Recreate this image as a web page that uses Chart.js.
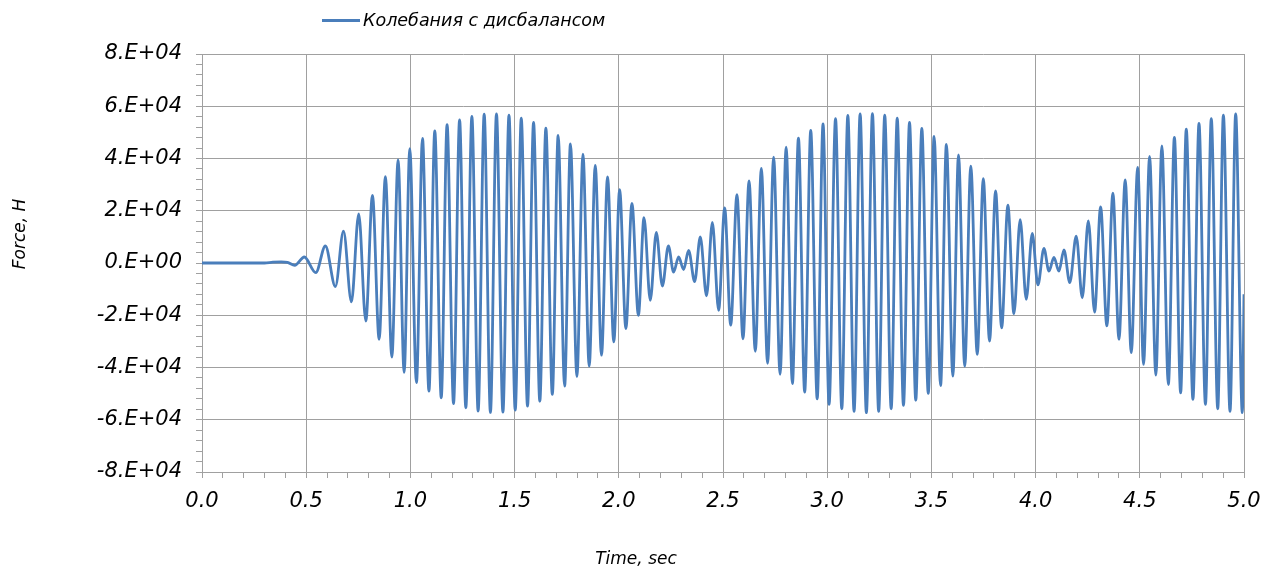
<!DOCTYPE html>
<html>
  <head>
    <meta charset="utf-8">
    <title>Колебания с дисбалансом</title>
    <script src="https://cdn.jsdelivr.net/npm/chart.js"></script>
    <style>
      body { margin: 0; background: #fff; }
      #wrap { position: relative; width: 1265px; height: 569px; }
      #legend {
        position: absolute; left: 322px; top: 10px;
        font: italic 17.5px "DejaVu Sans", sans-serif; color: #000;
        white-space: nowrap;
      }
      #legend span.swatch {
        display: inline-block; width: 38px; height: 3px; background: #4a7ebb;
        vertical-align: middle; margin-right: 3px; position: relative; top: -1px;
      }
    </style>
  </head>
  <body>
    <div id="wrap">
      <canvas id="forceChart"></canvas>
      <div id="legend"><span class="swatch"></span>Колебания с дисбалансом</div>
    </div>

    <script>
      // peaks and troughs (time in sec, force in H)
      const times = [
        0, 0.30, 0.34, 0.38, 0.41, 0.445, 0.491, 0.546, 0.592, 0.640,
        0.679, 0.717, 0.752, 0.786, 0.818, 0.850, 0.880, 0.911, 0.941, 0.970,
        0.997, 1.029, 1.058, 1.089, 1.117, 1.148, 1.176, 1.207, 1.236, 1.266,
        1.295, 1.325, 1.354, 1.384, 1.413, 1.444, 1.473, 1.503, 1.532, 1.562,
        1.591, 1.621, 1.650, 1.681, 1.709, 1.740, 1.768, 1.799, 1.828, 1.858,
        1.887, 1.917, 1.946, 1.976, 2.004, 2.034, 2.063, 2.094, 2.121, 2.151,
        2.180, 2.209, 2.238, 2.263, 2.287, 2.311, 2.335, 2.364, 2.391, 2.421,
        2.449, 2.479, 2.508, 2.537, 2.567, 2.596, 2.625, 2.655, 2.684, 2.714,
        2.743, 2.774, 2.803, 2.833, 2.862, 2.892, 2.921, 2.952, 2.980, 3.009,
        3.040, 3.070, 3.099, 3.129, 3.158, 3.188, 3.217, 3.247, 3.276, 3.307,
        3.336, 3.366, 3.395, 3.425, 3.454, 3.485, 3.513, 3.544, 3.572, 3.603,
        3.630, 3.660, 3.689, 3.720, 3.749, 3.779, 3.808, 3.837, 3.867, 3.896,
        3.926, 3.955, 3.984, 4.011, 4.040, 4.064, 4.088, 4.112, 4.136, 4.164,
        4.195, 4.224, 4.253, 4.283, 4.312, 4.342, 4.371, 4.400, 4.430, 4.459,
        4.490, 4.518, 4.547, 4.577, 4.606, 4.637, 4.666, 4.696, 4.723, 4.755,
        4.784, 4.815, 4.843, 4.874, 4.901, 4.933, 4.960, 4.992, 5.000
      ];
      const force = [
        0, 0, 300, 400, 200, -900, 2300, -3700, 6500, -9000,
        12200, -14900, 18800, -22200, 25900, -29200, 33100, -36000, 39500, -41900,
        43800, -45800, 47700, -49000, 50600, -51600, 53000, -53800, 54800, -55400,
        56100, -56700, 57000, -57200, 57100, -57100, 56600, -56300, 55400, -54800,
        53800, -52900, 51600, -50300, 48800, -47100, 45600, -43500, 41700, -39500,
        37400, -35300, 33000, -30200, 28100, -25100, 22800, -20000, 17400, -14300,
        11700, -8800, 6500, -3500, 2300, -2500, 4800, -7100, 10000, -12600,
        15500, -18100, 21100, -23800, 26200, -29000, 31400, -33800, 36200, -38400,
        40500, -42600, 44300, -46200, 47800, -49400, 50800, -52000, 53200, -54100,
        55300, -55800, 56500, -56800, 57100, -57300, 57200, -56800, 56600, -55800,
        55400, -54500, 53800, -52500, 51500, -49900, 48500, -46900, 45400, -43300,
        41400, -39500, 37100, -35000, 32300, -29900, 27600, -24800, 22100, -19400,
        16600, -13900, 11300, -8400, 5600, -3100, 2100, -3100, 5000, -7500,
        10300, -13300, 16100, -18800, 21500, -24100, 26700, -29200, 31800, -34300,
        36600, -38800, 40800, -42900, 44800, -46500, 48100, -49700, 51200, -52200,
        53400, -54100, 55300, -55800, 56600, -56800, 57100, -57300, -12000
      ];
      const xMajorTicks = [0, 0.5, 1, 1.5, 2, 2.5, 3, 3.5, 4, 4.5, 5];
      const yMajorTicks = [-80000, -60000, -40000, -20000, 0, 20000, 40000, 60000, 80000];

      const gridGray = "#a0a0a0";
      const isMajor = (list, v) => list.some((m) => Math.abs(m - v) < 1e-6);

      function sciLabel(v) {
        if (v === 0) return "0.E+00";
        const e = Math.floor(Math.log10(Math.abs(v)));
        const m = Math.round(v / Math.pow(10, e));
        return m + ".E+" + String(e).padStart(2, "0");
      }

      const axisTitles = {
        id: "axisTitles",
        afterDraw(chart) {
          const ctx = chart.ctx;
          ctx.save();
          ctx.fillStyle = "#000";
          ctx.font = 'italic 17px "DejaVu Sans"';
          ctx.textAlign = "center";
          ctx.textBaseline = "middle";
          ctx.fillText("Time, sec", 636, 560);
          ctx.translate(21, 234);
          ctx.rotate(-Math.PI / 2);
          ctx.fillText("Force, H", 0, 0);
          ctx.restore();
        },
      };

      Chart.defaults.font.family = '"DejaVu Sans", sans-serif';
      Chart.defaults.font.style = "italic";
      Chart.defaults.color = "#000";

      const ctx = document.getElementById("forceChart").getContext("2d");
      new Chart(ctx, {
        type: "line",
        data: {
          datasets: [
            {
              label: "Колебания с дисбалансом",
              data: times.map((t, i) => ({ x: t, y: force[i] })),
              borderColor: "#4a7ebb",
              borderWidth: 2.8,
              pointRadius: 0,
              cubicInterpolationMode: "monotone",
              fill: false,
            },
          ],
        },
        options: {
          responsive: true,
          maintainAspectRatio: false,
          animation: false,
          layout: { padding: { left: 0, right: 21, top: 54, bottom: 0 } },
          plugins: {
            legend: { display: false },
            tooltip: { enabled: false },
          },
          scales: {
            x: {
              type: "linear",
              min: 0,
              max: 5,
              afterFit: (scale) => {
                scale.height = 97;
                scale.paddingLeft = 0;
                scale.paddingRight = 0;
              },
              ticks: {
                stepSize: 0.1,
                autoSkip: false,
                maxRotation: 0,
                padding: 11,
                font: { size: 21 },
                callback: (v) => (isMajor(xMajorTicks, v) ? v.toFixed(1) : ""),
              },
              grid: {
                color: (c) => (c.tick && isMajor(xMajorTicks, c.tick.value) ? gridGray : "rgba(0,0,0,0)"),
                tickColor: gridGray,
                tickLength: 6,
              },
              border: { color: gridGray },
            },
            y: {
              min: -80000,
              max: 80000,
              afterFit: (scale) => {
                scale.width = 202;
                scale.paddingTop = 0;
                scale.paddingBottom = 0;
              },
              ticks: {
                stepSize: 4000,
                autoSkip: false,
                padding: 14,
                font: { size: 21 },
                callback: (v) => (isMajor(yMajorTicks, v) ? sciLabel(v) : ""),
              },
              grid: {
                color: (c) => (c.tick && isMajor(yMajorTicks, c.tick.value) ? gridGray : "rgba(0,0,0,0)"),
                tickColor: gridGray,
                tickLength: 6,
              },
              border: { color: gridGray },
            },
          },
        },
        plugins: [axisTitles],
      });
    </script>
  </body>
</html>
